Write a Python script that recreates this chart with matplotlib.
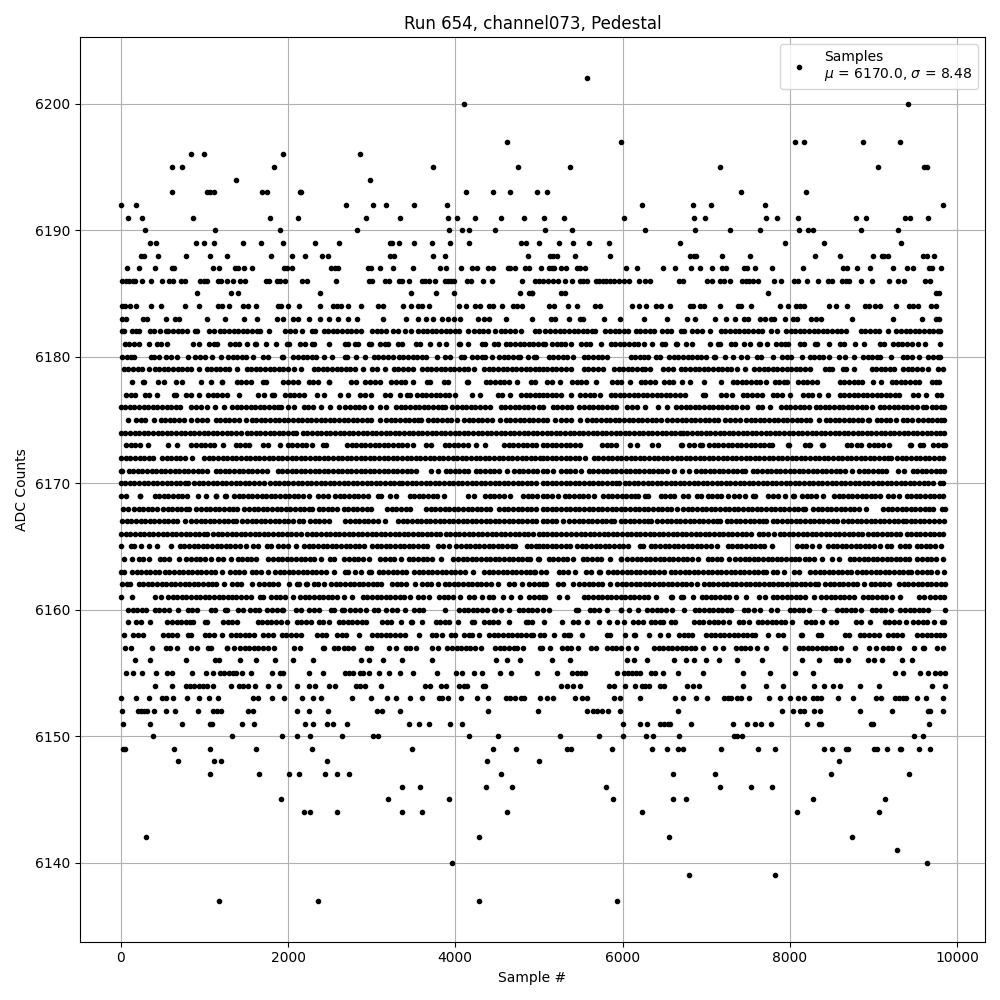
import matplotlib
matplotlib.use("Agg")
import matplotlib.pyplot as plt

r6202=[5569]
r6200=[4104,9408]
r6197=[4616,5976,8064,8172,8880,9312]
r6196=[836,992,1940,2864]
r6195=[608,728,1832,3728,4748,5376,7164,9060,9600,9640]
r6194=[1376,2984]
r6193=[608,1028,1072,1116,1688,1752,2140,2156,4124,4448,4656,4976,5100,7416,8196]
r6192=[8,176,2696,3020,3176,3512,3896,6228,6840,7056,7704,9828]
r6191=[92,248,860,1784,2120,2936,3344,3908,4016,4232,4544,4820,5064,5304,6012,6852,6984,7716,7848,8100,8796,8916,9372,9432,9648]
r6190=[284,1124,1904,2828,3920,4076,4160,4472,5076,5400,6264,6864,7284,7644,8112,8220,8272,8856,9288]
r6189=[344,416,896,992,1112,1460,1676,1940,2324,2612,3220,3248,3332,3512,3716,3932,4160,4784,4840,5006,5244,5412,5604,5832,6684,7944,8412,9324]
r6188=[236,272,440,776,1064,1268,1796,2048,2208,2408,2480,3220,3268,3728,3872,4868,5132,5172,5220,5436,5852,6804,6852,6884,7188,7524,8304,8604,9000,9100,9132,9180,9588,9644,9720]
r6187=[80,212,404,608,640,1100,1172,1364,1396,1472,1564,1952,1984,2048,2512,2560,2600,2960,2992,3104,3260,3500,3812,3884,4064,4196,4256,4388,4448,4628,4652,4712,4832,4880,5028,5116,5152,5184,5268,5324,5452,5492,5556,6036,6168,6480,6624,6816,6924,7068,7188,7236,7452,7492,7584,7788,8160,8640,8688,8808,8964,9228,9396,9468,9660,9700,9804]
r6186=[20,60,100,140,172,248,356,488,572,628,724,772,944,992,1032,1160,1200,1268,1344,1424,1480,1736,1768,1868,1908,1968,2168,2228,2576,2972,3008,3164,3204,3332,3368,3448,3596,3640,3680,3752,3872,3912,3952,3980,4136,4184,4328,4436,4796,4952,5000,5052,5112,5172,5232,5316,5400,5492,5532,5572,5684,5724,5764,5804,5852,5892,5952,6012,6072,6192,6272,6324,6672,6720,7008,7072,7164,7212,7284,7428,7472,7512,7564,7620,7812,7896,8052,8100,8208,8340,8460,8508,8628,8672,8712,8856,8980,9192,9292,9364,9612,9672]
r6185=[908,1316,1400,2384,3476,3764,3980,4772,4880,4920,4912,5260,5316,7740,9744,9780]
r6184=[20,52,108,180,360,476,764,932,1160,1208,1288,1460,1520,1620,1880,1920,2000,2132,2384,2540,2580,2628,2720,2876,3080,3140,3380,3468,3548,3600,3680,4040,4124,4240,4300,4400,4448,4556,4688,4740,4800,5124,5180,5352,5460,5672,5732,6108,6192,6276,6396,6456,6564,6804,6840,6924,6972,7164,7380,7420,7536,7884,7980,8076,8124,8172,8472,8556,8688,8904,8952,9024,9084,9264,9420,9472,9532,9692,9752]
r6183=[12,68,260,308,536,644,692,1028,1248,1472,1628,1868,1940,2060,2120,2252,2388,2492,2596,2720,2828,3140,3416,3548,3644,3728,3836,3912,3980,4052,4272,4340,4400,4604,4916,5140,5196,5364,5492,5532,5784,5964,6252,6528,6768,6864,7104,7236,7344,7452,7500,7644,7700,7772,7812,7944,8040,8088,8252,8312,8372,8748,9232,9580,9744,9780]
r6182=[15,40,130,180,220,345,395,465,540,570,620,680,735,790,885,915,1052,1110,1185,1240,1295,1350,1405,1460,1515,1570,1625,1660,1775,1965,2020,2085,2165,2285,2320,2425,2480,2535,2590,2645,2700,2755,2810,2875,3005,3060,3115,3170,3255,3310,3395,3465,3555,3610,3665,3720,3775,3830,3885,3940,3995,4045,4150,4225,4280,4335,4390,4475,4545,4600,4655,4710,4790,4955,5000,5070,5130,5195,5250,5305,5360,5415,5470,5525,5580,5635,5670,5795,5850,5905,5960,6015,6070,6155,6210,6265,6325,6380,6475,6530,6580,6695,6740,6835,6890,6945,7050,7175,7230,7285,7340,7395,7450,7505,7560,7615,7670,7775,7850,7955,8010,8065,8120,8175,8230,8285,8340,8395,8450,8505,8560,8615,8670,8850,8905,8960,9015,9070,9170,9275,9330,9385,9440,9495,9550,9605,9660,9715,9770,9800]
r6181=[45,100,155,215,332,430,485,548,865,935,1055,1110,1155,1305,1360,1415,1515,1605,1615,1736,1860,1985,2015,2145,2205,2285,2310,2492,2685,2715,2805,2835,2973,2995,3105,3160,3190,3317,3365,3533,3575,3692,3805,3885,4045,4055,4148,4325,4355,4465,4515,4605,4660,4715,4770,4825,4880,4935,4990,5045,5070,5157,5212,5267,5315,5388,5509,5560,5607,5748,5857,5912,5967,6022,6077,6132,6187,6252,6352,6477,6507,6637,6647,6757,6827,7044,7137,7167,7297,7339,7457,7527,7637,7647,7732,7837,7892,7947,7980,8117,8167,8297,8327,8472,8597,8647,8780,8892,9077,9127,9237,9292,9347,9402,9457,9527,9612,9797]
r6180=[17,72,127,155,365,395,460,545,595,676,800,885,945,1003,1092,1200,1285,1340,1395,1450,1495,1580,1705,1755,1925,1935,2065,2120,2175,2230,2285,2335,2432,2528,2685,2707,2812,2924,3025,3080,3135,3190,3255,3325,3380,3435,3490,3545,3600,3655,3780,3872,3940,4065,4107,4205,4260,4315,4355,4440,4525,4580,4635,4690,4745,4775,4868,4945,4963,5117,5172,5227,5282,5337,5407,5537,5592,5647,5702,5757,5819,6097,6152,6207,6262,6307,6397,6447,6557,6612,6667,6722,6777,6832,6887,6942,6995,7097,7107,7229,7315,7417,7487,7605,7659,7800,7909,7964,8015,8140,8237,8292,8347,8402,8467,8589,8659,8772,8877,8932,8987,9042,9075,9204,9349,9404,9459,9539,9657,9712,9767,9795]
r6179=[37,92,147,202,257,335,405,460,515,570,625,680,735,790,845,935,1025,1080,1135,1190,1245,1295,1388,1505,1560,1615,1670,1725,1780,1835,1890,1945,2000,2075,2160,2305,2360,2415,2470,2525,2580,2635,2690,2745,2800,2895,3005,3060,3155,3265,3320,3375,3430,3495,3605,3660,3715,3770,3825,3880,3935,3990,4045,4100,4155,4227,4345,4400,4455,4510,4565,4620,4675,4730,4785,4840,4895,4950,4995,5045,5100,5155,5210,5265,5320,5387,5537,5592,5647,5702,5767,5897,5952,6007,6062,6117,6172,6227,6267,6332,6485,6540,6607,6697,6752,6807,6862,6917,6972,7027,7082,7137,7192,7247,7302,7367,7464,7577,7632,7687,7742,7797,7852,7907,7962,8017,8072,8127,8182,8247,8417,8472,8507,8637,8667,8772,8977,9032,9087,9142,9197,9247,9357,9412,9467,9522,9577,9647,9777,9827]
r6178=[132,265,283,445,515,665,735,960,1080,1205,1215,1385,1440,1495,1555,1705,1735,1945,2000,2055,2115,2245,2300,2363,2485,2495,2757,2815,2925,2980,3035,3095,3237,3292,3347,3402,3495,3665,3695,3865,3915,4145,4155,4365,4420,4475,4530,4585,4640,4735,4905,4955,5097,5152,5247,5397,5452,5507,5560,5687,5877,5932,5987,6087,6217,6272,6327,6387,6497,6552,6607,6707,6812,6972,7172,7317,7372,7427,7482,7537,7592,7647,7715,7817,7872,7927,7967,8097,8152,8207,8262,8327,8597,8652,8707,8762,8817,8867,8997,9087,9217,9272,9327,9382,9437,9492,9547,9697,9752,9787]
r6177=[65,120,175,285,340,435,637,655,785,840,935,1045,1100,1155,1210,1275,1412,1645,1715,1805,1827,1965,2020,2075,2130,2195,2345,2435,2625,2715,2865,2920,2995,3165,3220,3335,3425,3455,3545,3600,3655,3710,3765,3820,3875,3930,3995,4205,4295,4505,4555,4660,4785,4840,4895,4950,4995,5045,5100,5155,5210,5267,5380,5497,5552,5607,5662,5727,5857,5912,5967,6022,6077,6132,6187,6242,6297,6352,6407,6462,6517,6572,6627,6682,6747,6957,6987,7177,7232,7307,7437,7492,7547,7602,7667,7797,7852,7907,8007,8157,8212,8267,8347,8457,8597,8652,8707,8762,8817,8872,8927,8982,9037,9092,9147,9202,9257,9307,9477,9532,9627,9757,9812]
r6176=[-3,52,107,162,217,272,327,382,437,492,547,602,657,707,845,900,955,1035,1125,1235,1333,1388,1443,1498,1553,1608,1663,1718,1773,1828,1883,1915,1997,2075,2185,2240,2295,2395,2505,2615,2685,2740,2795,2850,2905,2995,3105,3175,3293,3348,3403,3458,3513,3568,3623,3678,3733,3788,3843,3875,3965,4020,4075,4130,4185,4240,4295,4350,4415,4545,4600,4655,4710,4765,4820,4875,4930,4995,5045,5165,5220,5275,5330,5387,5485,5540,5595,5650,5705,5760,5815,5870,5927,6057,6112,6167,6267,6429,6527,6645,6700,6755,6810,6865,6920,6975,7030,7085,7140,7195,7250,7305,7360,7427,7492,7617,7672,7767,7897,7952,8007,8062,8117,8172,8227,8309,8364,8419,8474,8529,8584,8639,8694,8749,8804,8859,8914,8987,9077,9132,9187,9242,9297,9352,9407,9462,9517,9587,9632,9697,9752,9807,9845]
r6175=[84,185,240,295,395,477,532,587,642,697,752,835,917,972,1035,1133,1188,1243,1298,1353,1408,1495,1565,1620,1675,1730,1785,1840,1895,1950,2005,2060,2115,2170,2225,2280,2335,2390,2445,2500,2555,2610,2665,2720,2775,2830,2885,2940,2995,3095,3173,3228,3283,3338,3393,3448,3503,3558,3595,3677,3732,3787,3842,3897,3952,4015,4105,4160,4215,4270,4325,4380,4435,4535,4605,4660,4715,4770,4825,4880,4935,4990,5045,5100,5187,5269,5324,5379,5487,5577,5632,5687,5742,5797,5852,5907,5962,6017,6072,6127,6182,6237,6292,6347,6402,6457,6527,6597,6652,6707,6762,6817,6872,6927,6982,7037,7092,7147,7227,7285,7340,7407,7477,7532,7587,7642,7697,7752,7807,7862,7917,7972,8027,8082,8137,8192,8247,8347,8429,8484,8539,8594,8649,8704,8759,8814,8867,8937,8947,9037,9092,9147,9202,9267,9349,9404,9467,9537,9592,9647,9702,9757,9812,9845]
r6174=[5,55,110,165,220,275,330,385,440,495,550,605,660,715,770,825,880,935,990,1045,1100,1155,1210,1265,1320,1375,1435,1505,1560,1615,1670,1725,1780,1835,1890,1945,2000,2055,2095,2177,2232,2287,2342,2397,2452,2507,2562,2617,2672,2727,2782,2837,2892,2947,3002,3057,3112,3167,3222,3277,3332,3387,3442,3497,3552,3607,3662,3717,3772,3827,3882,3937,3992,4047,4102,4157,4212,4267,4322,4377,4432,4487,4542,4597,4652,4707,4762,4817,4872,4927,4982,5037,5092,5147,5202,5257,5312,5367,5422,5477,5532,5587,5642,5697,5752,5807,5862,5917,5972,6027,6082,6137,6192,6247,6302,6357,6412,6467,6522,6577,6632,6687,6725,6775,6830,6885,6940,6995,7050,7105,7160,7215,7270,7325,7380,7435,7490,7545,7600,7655,7710,7765,7820,7875,7930,7985,8040,8095,8150,8205,8260,8315,8370,8425,8480,8535,8590,8645,8700,8755,8810,8865,8920,8975,9030,9085,9140,9195,9250,9305,9360,9415,9470,9525,9580,9635,9690,9745,9800,9845]
r6173=[65,120,175,230,323,565,667,845,900,955,1010,1065,1115,1227,1373,1428,1483,1535,1705,1760,1907,1997,2052,2107,2162,2217,2283,2417,2455,2705,2760,2815,2870,2925,2980,3035,3090,3145,3200,3255,3310,3365,3420,3495,3652,3708,3873,3928,3983,4038,4093,4155,4253,4355,4585,4640,4695,4750,4805,4860,4915,4970,5045,5100,5155,5210,5265,5320,5375,5430,5487,5757,5812,5867,5927,6085,6167,6357,6427,6697,6707,6792,6852,6925,6947,7037,7092,7147,7202,7257,7312,7367,7422,7477,7532,7587,7642,7697,7752,7787,7977,7987,8177,8232,8247,8389,8395,8684,8732,8804,8852,8949,9004,9059,9114,9187,9437,9447,9557,9587,9717,9772,9827,9850]
r6172=[5,60,115,170,225,280,335,387,493,548,603,658,713,768,855,997,1052,1107,1162,1217,1272,1327,1382,1437,1492,1547,1602,1657,1712,1767,1822,1877,1932,1987,2042,2097,2152,2207,2262,2317,2372,2427,2482,2537,2592,2647,2702,2757,2812,2867,2922,2977,3032,3087,3142,3197,3252,3307,3362,3417,3472,3527,3582,3637,3692,3747,3802,3857,3912,3967,4022,4077,4132,4187,4242,4297,4352,4407,4462,4517,4572,4627,4682,4737,4792,4847,4902,4957,5012,5045,5100,5155,5210,5265,5320,5375,5430,5485,5547,5657,5712,5767,5822,5877,5932,5987,6042,6097,6152,6207,6262,6317,6372,6427,6482,6537,6592,6647,6702,6757,6812,6867,6922,6977,7032,7087,7142,7197,7252,7307,7362,7417,7472,7527,7582,7637,7692,7747,7802,7857,7912,7967,8022,8077,8132,8187,8242,8297,8352,8407,8462,8517,8572,8627,8682,8737,8792,8847,8902,8957,9012,9067,9122,9177,9207,9285,9340,9395,9450,9505,9560,9615,9670,9725,9780,9835]
r6171=[-3,15,93,148,203,258,313,368,423,478,533,588,643,698,753,808,863,918,973,1035,1133,1188,1243,1298,1353,1408,1463,1518,1573,1628,1683,1743,1877,1932,1987,2042,2097,2152,2207,2262,2317,2372,2427,2482,2537,2592,2647,2702,2757,2812,2867,2922,2977,3032,3087,3142,3197,3252,3307,3362,3417,3472,3535,3713,3795,3885,3940,3995,4050,4105,4155,4245,4300,4355,4410,4465,4520,4615,4705,4760,4815,4870,4925,4980,5045,5100,5167,5265,5320,5375,5430,5507,5597,5652,5707,5762,5817,5872,5927,5982,6037,6092,6147,6202,6257,6312,6367,6422,6477,6532,6615,6705,6795,6877,6932,6987,7042,7097,7152,7207,7262,7317,7372,7427,7467,7557,7612,7667,7722,7777,7832,7887,7942,7997,8052,8107,8162,8217,8272,8327,8382,8437,8492,8547,8602,8657,8739,8829,8884,8939,8994,9049,9104,9147,9297,9367,9469,9524,9579,9634,9689,9744,9799,9845]
r6170=[-3,52,107,162,217,272,327,382,437,492,547,602,657,712,767,807,877,932,987,1042,1097,1152,1207,1262,1317,1372,1427,1482,1537,1592,1647,1707,1785,1840,1895,1950,2005,2060,2115,2170,2225,2280,2335,2390,2445,2500,2555,2610,2665,2720,2775,2830,2885,2940,2995,3050,3105,3160,3215,3270,3325,3363,3425,3480,3535,3590,3645,3700,3755,3810,3865,3920,3975,4030,4085,4140,4195,4250,4305,4360,4415,4470,4525,4580,4635,4690,4745,4800,4855,4910,4965,5045,5100,5155,5210,5265,5320,5375,5430,5485,5540,5595,5650,5705,5760,5815,5870,5925,5960,6025,6080,6135,6190,6245,6300,6355,6410,6465,6520,6575,6630,6685,6740,6795,6850,6905,6960,7015,7070,7125,7180,7235,7290,7345,7400,7455,7510,7565,7620,7675,7730,7785,7840,7895,7950,8005,8060,8115,8170,8225,8280,8335,8390,8445,8500,8555,8610,8665,8720,8775,8830,8885,8940,8995,9050,9105,9160,9215,9270,9325,9380,9435,9490,9545,9600,9655,9707,9790,9830]
r6169=[-3,67,225,235,405,460,515,570,625,680,735,795,925,1015,1133,1135,1245,1253,1353,1408,1463,1518,1573,1628,1683,1738,1793,1848,1903,1958,2013,2068,2123,2178,2255,2357,2412,2475,2565,2620,2675,2730,2785,2840,2895,2955,3077,3115,3225,3295,3453,3508,3563,3618,3673,3728,3783,3867,4157,4227,4357,4412,4467,4522,4577,4655,4813,4868,4923,4978,5045,5100,5155,5227,5309,5364,5419,5474,5529,5584,5655,5769,5824,5879,5934,5989,6044,6099,6154,6187,6265,6299,6457,6512,6567,6619,6717,6779,6885,6939,7017,7072,7127,7182,7255,7337,7392,7467,7557,7587,7745,7800,7855,7939,8037,8047,8149,8204,8259,8314,8395,8529,8584,8639,8694,8749,8804,8859,8914,8969,9024,9075,9177,9232,9307,9397,9452,9507,9562,9617,9672,9727,9782,9830]
r6168=[25,83,157,212,267,322,377,427,505,560,615,670,725,780,815,905,960,1015,1070,1125,1180,1235,1290,1345,1387,1477,1532,1587,1642,1697,1752,1807,1862,1917,1972,2027,2082,2137,2192,2247,2283,2365,2420,2475,2530,2587,2665,2720,2775,2830,2885,2940,2995,3185,3240,3295,3350,3405,3455,3653,3708,3763,3818,3873,3928,3983,4038,4093,4148,4203,4258,4313,4368,4415,4525,4580,4635,4690,4745,4800,4855,4910,4965,5045,5100,5155,5210,5265,5320,5375,5430,5485,5540,5595,5650,5705,5760,5815,5870,5925,5980,6035,6090,6145,6200,6255,6310,6365,6420,6475,6530,6585,6655,6725,6780,6835,6890,6945,7000,7055,7110,7165,7220,7275,7330,7385,7440,7495,7550,7605,7660,7715,7770,7825,7880,7935,7990,8045,8100,8155,8187,8277,8332,8387,8442,8497,8552,8607,8662,8717,8772,8827,8907,9117,9172,9227,9282,9337,9392,9447,9502,9557,9612,9667,9707,9817,9850]
r6167=[17,72,127,182,237,292,347,402,457,512,567,622,677,763,845,900,955,1010,1065,1120,1175,1230,1285,1340,1375,1453,1508,1563,1618,1673,1728,1783,1838,1893,1948,2003,2055,2133,2175,2265,2320,2375,2430,2487,2685,2740,2795,2850,2905,2960,3015,3070,3163,3317,3372,3427,3482,3537,3592,3647,3702,3757,3812,3867,3922,3977,4032,4087,4142,4197,4252,4307,4362,4417,4472,4527,4582,4637,4692,4747,4802,4857,4912,4967,5045,5100,5155,5210,5287,5365,5420,5475,5530,5585,5640,5695,5750,5805,5860,5899,5977,6032,6087,6142,6197,6252,6307,6339,6417,6472,6527,6582,6637,6692,6747,6802,6857,6912,6967,7022,7077,7132,7167,7245,7300,7355,7410,7465,7520,7575,7630,7685,7715,7797,7852,7907,7962,8017,8072,8127,8182,8237,8292,8347,8402,8457,8512,8567,8637,8692,8747,8802,8857,8912,8967,9022,9077,9132,9187,9242,9297,9352,9387,9445,9500,9555,9610,9665,9720,9779,9845]
r6166=[5,60,115,170,225,280,335,390,445,500,555,610,665,720,775,830,885,940,995,1035,1105,1160,1215,1270,1325,1380,1435,1490,1545,1600,1655,1710,1765,1820,1875,1930,1985,2040,2095,2155,2226,2285,2340,2395,2450,2505,2560,2615,2670,2725,2780,2835,2890,2945,3000,3055,3110,3165,3220,3275,3330,3385,3440,3495,3550,3605,3660,3715,3770,3815,3885,3940,3995,4050,4105,4160,4215,4270,4325,4380,4435,4490,4545,4600,4655,4710,4765,4820,4875,4930,4995,5045,5100,5155,5210,5265,5327,5389,5444,5499,5554,5609,5664,5719,5774,5829,5884,5939,5994,6049,6104,6159,6214,6269,6324,6379,6434,6489,6544,6599,6654,6709,6764,6819,6874,6929,6984,7039,7094,7149,7204,7259,7314,7369,7424,7479,7539,7629,7684,7739,7807,7877,7932,7987,8042,8097,8152,8207,8262,8317,8372,8427,8482,8537,8592,8647,8702,8757,8812,8867,8937,8992,9047,9102,9157,9212,9267,9315,9397,9452,9507,9562,9617,9672,9727,9782,9835]
r6165=[0,117,155,237,335,433,595,705,760,815,870,925,980,1035,1090,1145,1200,1255,1310,1365,1420,1495,1585,1635,1745,1795,1885,1940,1995,2095,2193,2248,2303,2358,2413,2468,2523,2578,2633,2688,2743,2798,2853,2903,3005,3060,3115,3170,3225,3280,3335,3390,3445,3500,3555,3610,3667,3797,3852,3923,4013,4068,4123,4178,4233,4288,4343,4398,4453,4508,4563,4618,4673,4715,4853,4908,4963,4995,5045,5100,5155,5210,5265,5320,5367,5457,5512,5567,5622,5677,5732,5787,5842,5897,5952,6007,6067,6205,6247,6337,6392,6447,6502,6557,6612,6667,6722,6777,6832,6887,6942,6997,7052,7127,7257,7312,7367,7422,7477,7532,7587,7642,7697,7787,8085,8140,8195,8267,8344,8457,8512,8567,8622,8677,8732,8787,8842,8897,8952,9007,9075,9157,9207,9317,9372,9427,9517,9572,9627,9682,9737,9807]
r6164=[37,135,213,268,335,465,520,575,695,785,840,895,950,1005,1075,1165,1220,1315,1397,1452,1507,1562,1615,1765,1820,1875,1930,1985,2040,2095,2150,2205,2260,2315,2395,2505,2547,2675,2730,2785,2840,2895,2963,3105,3160,3215,3270,3355,3445,3500,3555,3610,3665,3720,3823,3977,4032,4087,4142,4197,4252,4307,4362,4417,4472,4527,4582,4637,4692,4747,4802,4857,4895,4985,4995,5117,5172,5227,5282,5337,5407,5525,5580,5635,5690,5745,5847,5977,5987,6057,6112,6167,6222,6277,6332,6387,6442,6497,6552,6607,6662,6717,6772,6827,6899,7017,7072,7127,7182,7267,7349,7404,7459,7514,7569,7624,7679,7734,7789,7844,7899,7954,8009,8064,8115,8177,8232,8287,8387,8509,8587,8717,8772,8827,8882,8937,8992,9047,9102,9157,9212,9267,9322,9377,9427,9525,9580,9635,9690,9745,9835]
r6163=[-3,43,133,188,243,298,353,408,455,525,580,635,690,745,800,855,910,965,1020,1075,1130,1215,1305,1360,1415,1475,1565,1620,1675,1755,1845,1900,1955,2010,2065,2120,2175,2230,2285,2340,2395,2450,2555,2677,2715,2805,2875,2965,2995,3085,3140,3195,3250,3305,3360,3407,3505,3560,3615,3670,3725,3780,3835,3890,3945,4000,4055,4110,4215,4345,4400,4455,4510,4565,4620,4675,4730,4785,4840,4895,4947,4945,5029,5087,5237,5292,5347,5427,5557,5627,5717,5727,5829,5884,5939,5994,6049,6104,6159,6214,6269,6324,6379,6434,6499,6577,6632,6687,6742,6797,6852,6907,6962,7017,7072,7127,7182,7237,7292,7347,7402,7457,7512,7567,7622,7677,7715,7797,7852,7927,8045,8107,8245,8300,8355,8410,8465,8520,8575,8630,8685,8727,8805,8860,8915,8970,9025,9080,9135,9190,9245,9300,9355,9410,9447,9525,9580,9635,9690,9755,9844]
r6162=[17,72,115,213,268,323,378,433,488,543,598,653,708,763,818,873,928,983,1038,1093,1135,1240,1333,1388,1443,1563,1657,1712,1767,1822,1877,2015,2105,2135,2213,2227,2305,2360,2427,2517,2572,2627,2682,2737,2792,2847,2902,2957,3012,3067,3115,3245,3300,3355,3410,3515,3605,3660,3715,3795,3873,3928,3983,4038,4093,4148,4203,4258,4313,4368,4423,4515,4645,4700,4795,4885,4940,4995,5045,5087,5229,5284,5407,5485,5540,5595,5650,5705,5760,5847,5937,5992,6047,6102,6157,6212,6267,6322,6377,6432,6487,6542,6597,6652,6707,6762,6817,6887,6977,7032,7087,7142,7197,7252,7307,7362,7417,7472,7527,7582,7637,7692,7747,7802,7857,7912,7967,8022,8077,8132,8187,8242,8297,8339,8421,8476,8531,8586,8641,8696,8751,8806,8887,8965,9020,9075,9130,9187,9309,9364,9419,9474,9529,9584,9639,9694,9749,9804,9850]
r6161=[0,132,405,475,565,620,675,730,785,840,895,950,1005,1060,1115,1170,1225,1280,1335,1380,1437,1492,1555,1665,1695,1797,1852,1907,1962,2055,2145,2200,2255,2310,2365,2420,2475,2530,2585,2667,2760,2893,2948,3003,3058,3113,3168,3223,3278,3333,3388,3455,3557,3612,3683,3805,3860,3915,3970,4055,4165,4220,4315,4397,4452,4575,4665,4775,4885,4940,4995,5045,5067,5237,5339,5537,5592,5647,5702,5757,5812,5867,5922,5977,6032,6087,6142,6197,6252,6307,6395,6577,6587,6697,6727,6840,6945,7000,7055,7110,7165,7220,7275,7355,7472,7629,7699,7797,7852,7907,7962,8017,8072,8127,8182,8287,8377,8432,8487,8542,8597,8652,8707,8767,8877,8932,8987,9042,9097,9152,9227,9312,9549,9604,9672,9737,9792,9845]
r6160=[85,140,195,250,307,405,460,515,575,680,805,855,907,1077,1123,1245,1275,1397,1467,1545,1600,1655,1747,1813,1868,1923,1943,2093,2155,2253,2308,2375,2513,2547,2645,2667,2745,2800,2855,2935,3025,3080,3175,3245,3307,3403,3505,3560,3615,3880,4045,4100,4155,4210,4265,4320,4375,4465,4475,4548,4640,4757,4812,4867,4922,4977,5045,5115,5445,5467,5605,5660,5715,5819,5977,5987,6080,6180,6297,6352,6407,6462,6517,6595,6740,6865,6920,6975,7030,7085,7140,7195,7250,7299,7449,7504,7567,7644,7777,7847,7997,8052,8107,8162,8227,8412,8565,8620,8675,8730,8785,8847,8977,9032,9087,9142,9207,9312,9377,9432,9487,9542,9597,9647,9852]
r6159=[92,185,240,355,557,612,667,722,777,832,867,1005,1035,1225,1280,1335,1395,1637,1692,1747,1802,1857,1915,1988,2105,2160,2215,2275,2365,2420,2495,2605,2660,2715,2770,2825,2880,2935,3125,3180,3235,3355,3465,3483,3600,3765,3820,3875,3930,4035,4197,4227,4345,4400,4455,4515,4640,4845,4867,4912,5060,5272,5405,5465,5580,5720,5832,5933,6015,6125,6180,6247,6337,6392,6447,6487,6577,6627,6857,6912,6967,7037,7092,7147,7202,7267,7389,7444,7507,7617,7672,7727,7782,7837,7892,7947,8027,8197,8252,8307,8387,8497,8547,8797,8852,8955,9137,9192,9247,9302,9387,9477,9532,9587,9642,9727,9817,9847]
r6158=[40,140,200,260,505,560,615,675,805,835,1005,1060,1115,1207,1317,1372,1427,1482,1537,1595,1705,1760,1815,1925,1980,2035,2090,2155,2345,2400,2455,2585,2640,2695,2852,3005,3060,3115,3170,3225,3280,3335,3395,3560,3717,3772,3835,3945,3995,4105,4160,4195,4280,4405,4460,4515,4570,4625,4680,4735,4790,4845,4900,4935,5012,5060,5180,5297,5352,5367,5512,5817,5847,6024,6137,6147,6317,6452,6540,6677,6732,6787,6827,6997,7052,7107,7162,7217,7272,7327,7382,7437,7492,7547,7587,7740,7857,7915,8137,8147,8337,8367,8657,8707,8837,8892,8947,9002,9067,9177,9232,9287,9339,9525,9580,9635,9690,9745,9800,9845]
r6157=[45,123,368,535,590,675,837,915,1045,1075,1265,1275,1348,1425,1480,1535,1590,1645,1700,1755,1835,2077,2147,2413,2435,2545,2595,2668,2720,2780,2945,2995,3205,3295,3405,3460,3535,3725,3795,3905,3960,4015,4070,4125,4180,4235,4307,4477,4532,4587,4642,4697,4735,4808,5012,5037,5127,5277,5332,5387,5467,5617,5687,5817,5872,5927,5982,6067,6156,6377,6432,6487,6542,6597,6652,6707,6762,6817,6872,6967,7109,7207,7357,7412,7467,7524,7612,7712,7937,7947,8105,8160,8215,8270,8325,8380,8435,8490,8545,8607,8784,8949,9027,9117,9172,9227,9307,9484,9597,9607,9757,9827]
r6156=[164,344,776,1132,1180,1424,1616,1840,2060,2300,2868,2972,3140,3368,3716,4484,4616,4772,5152,5376,6052,6132,6288,6612,6760,6852,6996,7152,7368,7672,8148,8352,8552,8604,8700,8940,9012,9108,9336,9456]
r6155=[60,140,248,416,548,608,848,1016,1100,1188,1240,1290,1340,1380,1452,1556,1808,1900,1940,2252,2420,2680,2730,2780,2860,2900,2972,3092,3212,3344,3500,3776,4004,4080,4220,4320,4532,4664,4972,5220,5400,5450,5500,5552,5932,6012,6060,6110,6160,6212,6340,6390,6480,6660,6960,7440,7764,8064,8280,9252,9352,9552,9648,9740,9790,9852]
r6154=[412,608,780,830,880,930,980,1030,1100,1320,1412,1460,1520,1604,1760,1892,2108,2252,2324,2492,2560,2812,2860,2920,3116,3632,3692,3828,3884,4040,4100,4140,4332,4360,5260,5332,5412,5492,5832,5900,6032,6144,6232,6270,6312,6452,6492,6772,6840,6912,7440,7716,7920,8284,8412,8520,8604,8844,9072,9700,9852]
r6153=[8,176,332,488,540,620,788,932,1052,1160,1580,1640,1808,1952,2168,2300,2396,2768,2996,3180,3296,3464,3596,3800,3840,3908,4068,4260,4392,4604,4660,4716,4780,4820,5012,5092,5172,5432,5512,5580,5892,5972,6204,6632,6724,6880,7008,7212,7260,7292,7372,7412,7512,7752,7884,8004,8100,8172,8272,8320,8372,8572,8752,9032,9092,9252,9300,9350,9392,9516,9628,9832]
r6152=[20,200,240,280,308,392,536,644,920,1100,1150,1200,1520,1580,2108,2252,2480,3068,3128,3344,4388,4984,5572,5652,5700,5752,5820,5964,6664,7908,8040,8124,8172,8284,8364,8844,9216,9652,9680,9828]
r6151=[32,344,728,1072,1092,1448,1592,2204,2300,2468,2540,2708,3452,3560,3680,3932,4076,6000,6204,6288,6452,6500,6540,6572,6816,7320,7488,7584,7656,7776,8208,8352,8372,8972,8990,9660]
r6150=[380,1328,1928,2108,2264,2648,3020,3080,4160,4508,5256,5724,6000,6276,6360,6672,7332,7372,7428,9480,9588]
r6149=[32,48,632,1064,1616,2288,3488,4448,4724,5332,5388,5868,6348,6528,6660,6724,7176,7620,7824,8412,8500,8672,8690,9012,9040,9168,9312,9330,9540,9672]
r6148=[680,1112,1196,2468,4376,5006,8592]
r6147=[1064,1652,2012,2132,2444,2588,2732,4544,6600,7104,8496,9420]
r6146=[3368,3572,4364,4676,5796,7164,7536,7788]
r6145=[1916,3200,3920,5880,6600,6756,8280,9144]
r6144=[2192,2264,2588,3368,3596,4616,6228,8088,9072]
r6142=[296,4280,6552,8748]
r6141=[9276]
r6140=[3956,9636]
r6139=[6792,7824]
r6137=[1172,2360,4280,5928]

levels=[6202,6200,6197,6196,6195,6194,6193,6192,6191,6190,6189,6188,6187,6186,6185,6184,6183,6182,6181,6180,6179,6178,6177,6176,6175,6174,6173,6172,6171,6170,6169,6168,6167,6166,6165,6164,6163,6162,6161,6160,6159,6158,6157,6156,6155,6154,6153,6152,6151,6150,6149,6148,6147,6146,6145,6144,6142,6141,6140,6139,6137]
rows=[r6202,r6200,r6197,r6196,r6195,r6194,r6193,r6192,r6191,r6190,r6189,r6188,r6187,r6186,r6185,r6184,r6183,r6182,r6181,r6180,r6179,r6178,r6177,r6176,r6175,r6174,r6173,r6172,r6171,r6170,r6169,r6168,r6167,r6166,r6165,r6164,r6163,r6162,r6161,r6160,r6159,r6158,r6157,r6156,r6155,r6154,r6153,r6152,r6151,r6150,r6149,r6148,r6147,r6146,r6145,r6144,r6142,r6141,r6140,r6139,r6137]

sample_index=[]
adc_counts=[]
for level,row in zip(levels,rows):
    sample_index.extend(row)
    adc_counts.extend([level]*len(row))

fig,ax=plt.subplots(figsize=(10,10),dpi=100)
ax.plot(sample_index,adc_counts,'k.',label='Samples\n$\\mu$ = 6170.0, $\\sigma$ = 8.48')
ax.set_xlim(-492,10334)
ax.set_title('Run 654, channel073, Pedestal')
ax.set_xlabel('Sample #')
ax.set_ylabel('ADC Counts')
ax.grid(True)
ax.legend(loc='upper right')
fig.tight_layout()
fig.savefig('out.png')
